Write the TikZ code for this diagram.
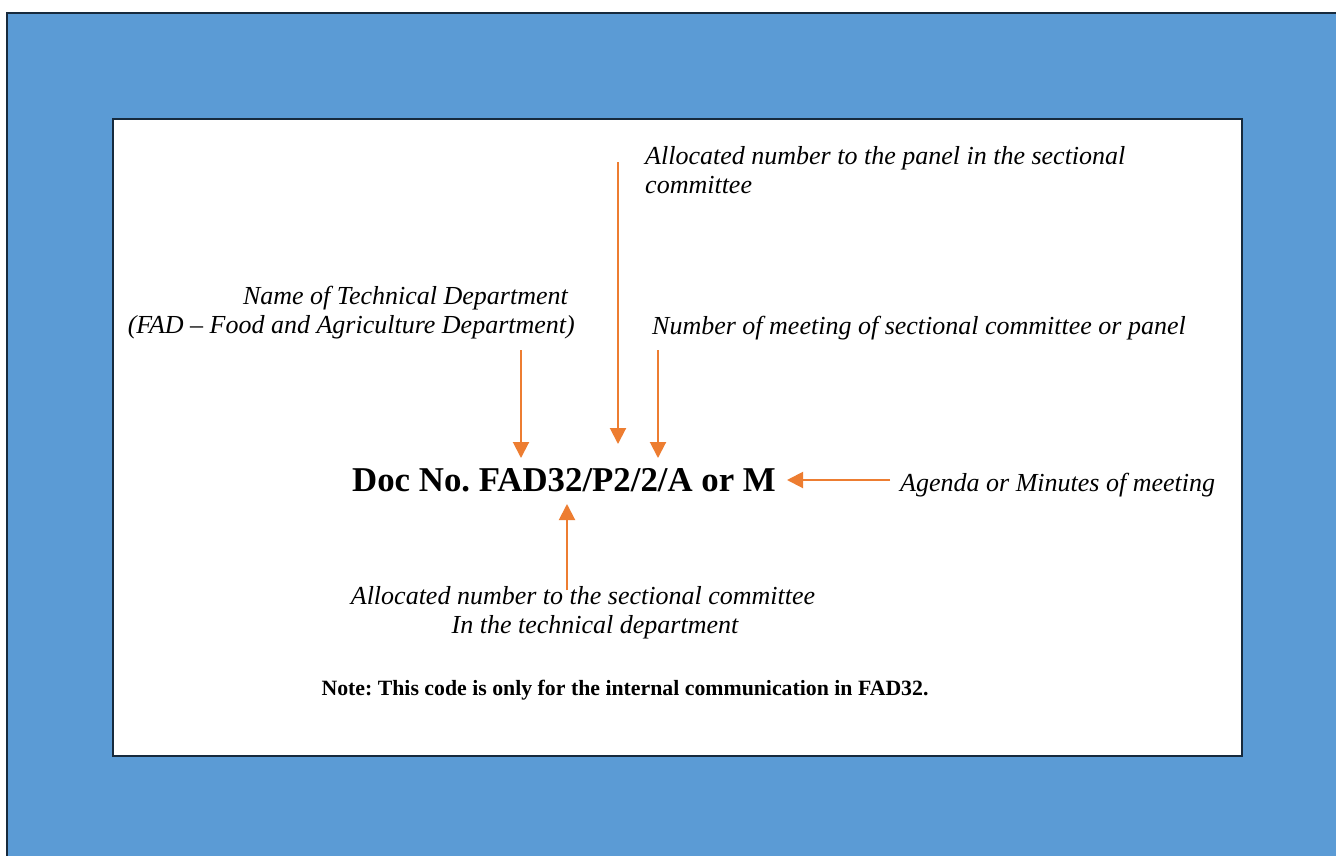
\documentclass[tikz,border=0pt]{standalone}
\usepackage{fontspec}
\setmainfont{Liberation Serif}
\usetikzlibrary{arrows.meta}
\frenchspacing

\definecolor{sheetblue}{HTML}{5B9BD5}
\definecolor{sheetedge}{HTML}{172A3D}
\definecolor{pointerorange}{HTML}{ED7D31}

\tikzset{
	pointer/.style = {pointerorange, line width = 2pt, -{Triangle[width = 16pt, length = 16pt]}},
	remark/.style = {inner sep = 0pt, font = \fontsize{26}{28.5}\selectfont\itshape},
	docnumber/.style = {inner sep = 0pt, font = \fontsize{34.8}{40}\selectfont\bfseries},
	footnote/.style = {inner sep = 0pt, font = \fontsize{21.8}{25}\selectfont\bfseries}
}

\begin{document}
\begin{tikzpicture}[x = 1pt, y = -1pt]
	 \useasboundingbox (0, 0) rectangle (1336, 855);
	 \fill[white] (0, 0) rectangle (1336, 855);
	 
	 % frames
	 \draw[sheetedge, line width = 2.5pt, fill = sheetblue] (7, 13) rectangle (1350, 870);
	 \draw[sheetedge, line width = 2.5pt, fill = white] (113, 119) rectangle (1242, 756);
	 
	 % labels (base = last line)
	 \node[remark, anchor = base west, align = left] (panel) at (645, 193) {Allocated number to the panel in the sectional\\committee};
	 \node[remark, anchor = base east, align = right] (dept) at (575, 333) {Name of Technical Department\hspace*{7pt}\\(FAD -- Food and Agriculture Department)};
	 \node[remark, anchor = base west] (meeting) at (652, 334) {Number of meeting of sectional committee or panel};
	 \node[docnumber, anchor = base west] (docno) at (352, 491) {Doc No. FAD32/P2/2/A or M};
	 \node[remark, anchor = base west] (agenda) at (900, 491) {Agenda or Minutes of meeting};
	 \node[remark, anchor = base, align = center] (sectional) at (583, 633) {Allocated number to the sectional committee\\\hspace*{24pt}In the technical department};
	 \node[footnote, anchor = base] (note) at (625, 695) {Note: This code is only for the internal communication in FAD32.};
	 
	 % arrow ends
	 \coordinate (deptfrom) at (521, 350);
	 \coordinate (deptto) at (521, 458);
	 \coordinate (panelfrom) at (618, 162);
	 \coordinate (panelto) at (618, 444);
	 \coordinate (meetingfrom) at (658, 350);
	 \coordinate (meetingto) at (658, 458);
	 \coordinate (agendafrom) at (890, 480);
	 \coordinate (agendato) at (787, 480);
	 \coordinate (sectionalfrom) at (567, 590);
	 \coordinate (sectionalto) at (567, 504);
	 
	 \draw[pointer] (deptfrom) -- (deptto);
	 \draw[pointer] (panelfrom) -- (panelto);
	 \draw[pointer] (meetingfrom) -- (meetingto);
	 \draw[pointer] (agendafrom) -- (agendato);
	 \draw[pointer] (sectionalfrom) -- (sectionalto);
\end{tikzpicture}
\end{document}
